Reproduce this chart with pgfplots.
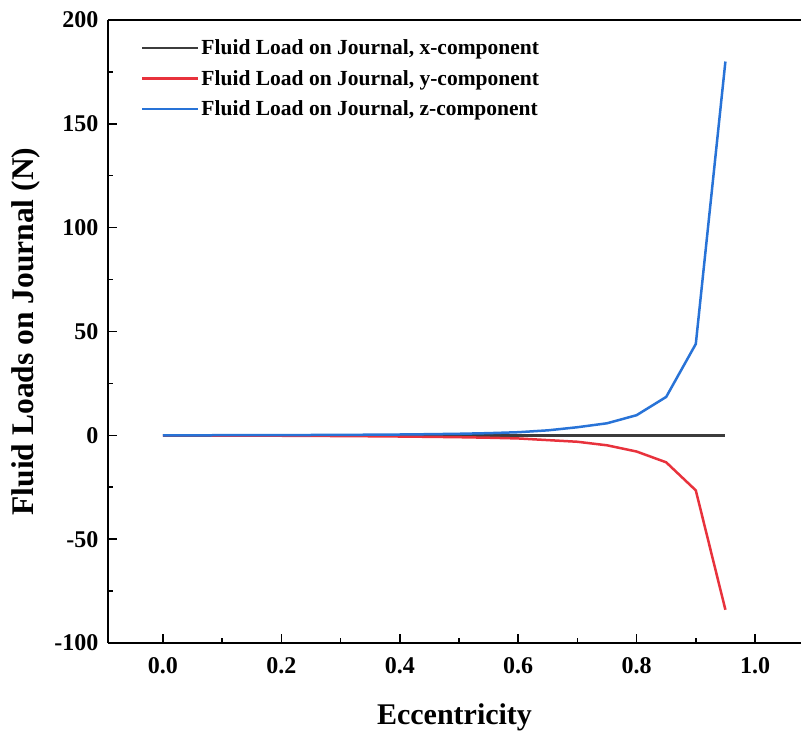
\documentclass[border=0pt]{standalone}
\usepackage{pgfplots}
\pgfplotsset{compat=1.18}
\usepackage{fontspec}
\setmainfont{Liberation Serif}

\definecolor{cx}{RGB}{60,60,60}
\definecolor{cy}{RGB}{232,50,60}
\definecolor{cz}{RGB}{40,115,215}

\begin{document}
\begin{tikzpicture}
\begin{axis}[
    name=ax,
    scale only axis,
    width=693pt, height=623pt,
    xmin=-0.0929, xmax=1.0777,
    ymin=-100, ymax=200,
    axis lines*=left,
    axis line style={line width=2pt},
    xtick={0,0.2,...,1.0},
    ytick={-100,-50,...,200},
    minor tick num=1,
    tick align=inside,
    major tick length=9pt,
    minor tick length=5pt,
    tick style={line width=1.5pt, black},
    /pgf/number format/assume math mode=true,
    ticklabel style={font=\fontsize{24}{26}\selectfont\bfseries},
    xticklabel style={yshift=-11pt, /pgf/number format/.cd, fixed, fixed zerofill, precision=1},
    yticklabel style={xshift=-6pt},
    xlabel={Eccentricity},
    ylabel={Fluid Loads on Journal (N)},
    xlabel style={font=\fontsize{30}{32}\selectfont\bfseries, at={(axis description cs:0.5,-0.119)}, anchor=center},
    ylabel style={font=\fontsize{31.5}{33}\selectfont\bfseries, at={(axis description cs:-0.119,0.5)}, anchor=center},
    legend cell align=left,
    legend style={at={(axis description cs:0.043,0.975)}, anchor=north west,
        draw=none, fill=none, font=\fontsize{21.5}{23}\selectfont\bfseries,
        row sep=10pt},
    legend image code/.code={\draw[#1] (0pt,0pt) -- (41pt,0pt); \path (0pt,0pt) -- (56pt,0pt);},
]
\addplot[cx, line width=2.5pt] table {
0.00 0
0.05 0
0.10 0
0.15 0
0.20 0
0.25 0
0.30 0
0.35 0
0.40 0
0.45 0
0.50 0
0.55 0
0.60 0
0.65 0
0.70 0
0.75 0
0.80 0
0.85 0
0.90 0
0.95 0
};
\addlegendentry{Fluid Load on Journal, x-component}
\addplot[cy, line width=2.5pt] table {
0.00 0
0.05 -0.05
0.10 -0.10
0.15 -0.15
0.20 -0.20
0.25 -0.27
0.30 -0.35
0.35 -0.45
0.40 -0.57
0.45 -0.72
0.50 -0.90
0.55 -1.15
0.60 -1.5
0.65 -2.3
0.70 -3.1
0.75 -4.8
0.80 -7.8
0.85 -13
0.90 -26.5
0.95 -84
};
\addlegendentry{Fluid Load on Journal, y-component}
\addplot[cz, line width=2.5pt] table {
0.00 0
0.05 0.02
0.10 0.05
0.15 0.08
0.20 0.12
0.25 0.16
0.30 0.22
0.35 0.30
0.40 0.40
0.45 0.55
0.50 0.75
0.55 1.05
0.60 1.5
0.65 2.4
0.70 3.9
0.75 5.8
0.80 9.7
0.85 18.5
0.90 44
0.95 180
};
\addlegendentry{Fluid Load on Journal, z-component}
\end{axis}
\draw[line width=2pt] (ax.north west) -- (ax.north east);
\pgfresetboundingbox
\path (ax.south west) ++(-108pt,-88pt) rectangle ([yshift=20pt]ax.north east);
\end{tikzpicture}
\end{document}
